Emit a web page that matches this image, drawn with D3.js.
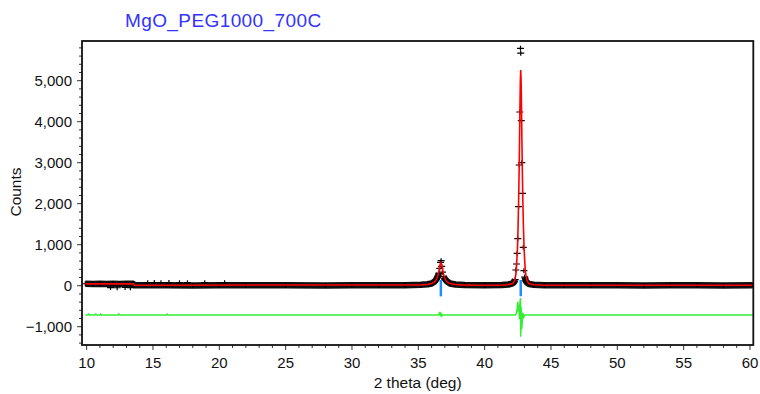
<!DOCTYPE html>
<html>
<head>
<meta charset="utf-8">
<script src="https://cdn.jsdelivr.net/npm/d3@7"></script>
<style>
  body { margin: 0; background: #fff; }
  svg { display: block; font-family: 'Liberation Sans', Arial, sans-serif; }
</style>
</head>
<body>
<svg></svg>
<script>
const width = 760;
const height = 394;
const plotLeft = 82;
const plotRight = 753.3;
const plotTop = 41;
const plotBottom = 345;

const title = 'MgO_PEG1000_700C';
const xLabel = '2 theta (deg)';
const yLabel = 'Counts';

const xTicks = [10, 15, 20, 25, 30, 35, 40, 45, 50, 55, 60];
const yTicks = [-1000, 0, 1000, 2000, 3000, 4000, 5000];

// observed points
const obsTheta = [9.9, 10.5, 11.0, 11.5, 12.0, 12.5, 13.0, 13.5, 13.6, 14.5, 16, 18, 20, 22, 25, 28, 30, 32, 34,
  35.2, 35.7, 36.0, 36.2, 36.35, 36.48, 36.56, 36.62, 36.68, 36.72, 36.76, 36.82, 36.9, 37.0, 37.15, 37.4, 37.8,
  38.5, 40, 41.3, 41.8, 42.1, 42.22, 42.30, 42.35, 42.40, 42.45, 42.50, 42.56, 42.61, 42.65, 42.70, 42.72, 42.76,
  42.80, 42.86, 42.91, 42.96, 43.02, 43.10, 43.2, 43.35, 43.7, 44.5, 46, 48, 50, 52, 54, 56, 58, 60.2];
const obsCounts = [48, 42, 50, 44, 47, 43, 49, 45, 14, 10, 12, 8, 11, 9, 10, 8, 10, 9, 11,
  22, 35, 55, 95, 150, 230, 300, 424, 570, 610, 470, 330, 220, 170, 110, 55, 30,
  18, 12, 18, 30, 55, 90, 150, 383, 529, 790, 1146, 1927, 2944, 4237, 5790, 5670, 4024,
  3000, 2254, 937, 366, 210, 120, 70, 40, 22, 12, 10, 9, 10, 8, 9, 10, 8, 9];

// stray observed points around the low angle background
const strayTheta = [11.8, 12.3, 12.9, 13.3, 14.6, 15.1, 15.6, 16.2, 17.0, 17.6, 18.9, 20.4];
const strayCounts = [-45, -50, -42, -48, 75, 78, 72, 76, 72, 75, 74, 70];

// calculated profile
const calcTheta = [9.9, 13.55, 13.6, 35.2, 35.7, 36.0, 36.2, 36.3, 36.4, 36.45, 36.5, 36.55, 36.6, 36.65, 36.7,
  36.75, 36.8, 36.85, 36.9, 36.95, 37.0, 37.1, 37.2, 37.4, 37.7, 38.2, 39.5, 41.0, 41.72, 42.12, 42.27, 42.37,
  42.42, 42.47, 42.52, 42.57, 42.60, 42.63, 42.66, 42.69, 42.72, 42.75, 42.78, 42.81, 42.84, 42.87, 42.92,
  42.97, 43.02, 43.07, 43.17, 43.32, 43.72, 44.5, 60.2];
const calcCounts = [45, 45, 12, 21, 33, 53, 88, 122, 181, 226, 286, 362, 450, 528, 560,
  528, 450, 362, 286, 226, 181, 122, 88, 53, 33, 21, 12, 12, 25, 55, 130, 310,
  580, 880, 1430, 2230, 2830, 3530, 4310, 4980, 5260, 4980, 4310, 3530, 2830, 2230, 1480,
  930, 600, 340, 140, 55, 25, 12, 10];

// difference (obs - calc), drawn shifted down
const diffOffset = -715;
const diffTheta = [9.9, 10.1, 10.17, 10.24, 10.6, 10.68, 10.76, 11.0, 11.06, 11.12, 12.37, 12.43, 12.5, 16.0,
  16.07, 16.14, 36.5, 36.58, 36.62, 36.66, 36.70, 36.74, 36.78, 36.86, 42.3, 42.4, 42.45, 42.5, 42.54, 42.58,
  42.62, 42.66, 42.70, 42.72, 42.75, 42.79, 42.84, 42.88, 42.93, 43.0, 60.2];
const diffCounts = [0, 0, 25, 0, 0, 25, 0, 0, 25, 0, 0, 25, 0, 0,
  25, 0, 0, 30, 75, -20, 60, -50, 10, 0, 0, 40, 150, 325, 80, 250,
  -100, 300, 415, -530, 200, -350, -163, 60, -80, 0, 0];

// reflection markers
const braggTheta = [36.70, 42.72];
const braggSpan = [140, -260];

window.onload = () => {
  const svg = d3.select('svg')
      .attr('width', width)
      .attr('height', height);

  const x = d3.scaleLinear().domain([9.65, 60.25]).range([plotLeft, plotRight]);
  const y = d3.scaleLinear().domain([-1446, 5968]).range([plotBottom, plotTop]);

  const obs = obsTheta.map((t, i) => ({t: t, c: obsCounts[i]}));
  const stray = strayTheta.map((t, i) => ({t: t, c: strayCounts[i]}));
  const calc = calcTheta.map((t, i) => ({t: t, c: calcCounts[i]}));
  const diff = diffTheta.map((t, i) => ({t: t, c: diffCounts[i] + diffOffset}));

  svg.append('defs')
    .append('clipPath')
      .attr('id', 'plot-clip')
    .append('rect')
      .attr('x', plotLeft)
      .attr('y', plotTop)
      .attr('width', plotRight - plotLeft)
      .attr('height', plotBottom - plotTop);

  const plot = svg.append('g').attr('clip-path', 'url(#plot-clip)');

  // dense observed points merge into a thick black band
  const band = d3.line()
      .defined(d => d.c < 320)
      .x(d => x(d.t))
      .y(d => y(d.c));

  plot.append('path')
      .datum(obs)
      .attr('d', band)
      .attr('fill', 'none')
      .attr('stroke', '#111')
      .attr('stroke-width', 6.5)
      .attr('stroke-linejoin', 'round');

  const cross = 'M-3.5,0h7M0,-2.5v5';

  plot.selectAll('path.obs')
    .data(obs.concat(stray))
    .join('path')
      .attr('class', 'obs')
      .attr('transform', d => `translate(${x(d.t)},${y(d.c)})`)
      .attr('d', cross)
      .attr('stroke', '#000')
      .attr('stroke-width', 1.2);

  const line = d3.line()
      .x(d => x(d.t))
      .y(d => y(d.c));

  plot.append('path')
      .datum(diff)
      .attr('d', line)
      .attr('fill', 'none')
      .attr('stroke', '#33ee33')
      .attr('stroke-width', 1.5);

  plot.selectAll('line.bragg')
    .data(braggTheta)
    .join('line')
      .attr('class', 'bragg')
      .attr('x1', d => x(d))
      .attr('x2', d => x(d))
      .attr('y1', y(braggSpan[0]))
      .attr('y2', y(braggSpan[1]))
      .attr('stroke', '#1e8fff')
      .attr('stroke-width', 2.5);

  plot.append('path')
      .datum(calc)
      .attr('d', line)
      .attr('fill', 'none')
      .attr('stroke', '#ff0000')
      .attr('stroke-width', 1.6);

  // axes
  const xMinor = d3.range(10, 61, 1);
  const yMinor = d3.range(-1400, 5801, 200);

  const xAxis = svg.append('g')
      .attr('transform', `translate(0,${plotBottom})`);
  xAxis.selectAll('line')
    .data(xMinor)
    .join('line')
      .attr('x1', d => x(d))
      .attr('x2', d => x(d))
      .attr('y1', 0)
      .attr('y2', d => xTicks.includes(d) ? 5 : 3)
      .attr('stroke', '#333')
      .attr('stroke-width', 1);
  xAxis.selectAll('text')
    .data(xTicks)
    .join('text')
      .attr('x', d => x(d))
      .attr('y', 23)
      .attr('text-anchor', 'middle')
      .attr('font-size', 15)
      .attr('fill', '#111')
      .text(d => d);

  const yAxis = svg.append('g')
      .attr('transform', `translate(${plotLeft},0)`);
  yAxis.selectAll('line')
    .data(yMinor)
    .join('line')
      .attr('x1', 0)
      .attr('x2', d => yTicks.includes(d) ? -5 : -3)
      .attr('y1', d => y(d))
      .attr('y2', d => y(d))
      .attr('stroke', '#333')
      .attr('stroke-width', 1);
  yAxis.selectAll('text')
    .data(yTicks)
    .join('text')
      .attr('x', -10)
      .attr('y', d => y(d))
      .attr('dy', '0.35em')
      .attr('text-anchor', 'end')
      .attr('font-size', 15)
      .attr('fill', '#111')
      .text(d => d3.format(',')(d));

  svg.append('rect')
      .attr('x', plotLeft)
      .attr('y', plotTop)
      .attr('width', plotRight - plotLeft)
      .attr('height', plotBottom - plotTop)
      .attr('fill', 'none')
      .attr('stroke', '#111')
      .attr('stroke-width', 1.8);

  svg.append('text')
      .attr('x', (plotLeft + plotRight) / 2)
      .attr('y', 388)
      .attr('text-anchor', 'middle')
      .attr('font-size', 15.5)
      .attr('fill', '#111')
      .text(xLabel);

  svg.append('text')
      .attr('transform', 'translate(21,192) rotate(-90)')
      .attr('text-anchor', 'middle')
      .attr('font-size', 15.5)
      .attr('fill', '#111')
      .text(yLabel);

  svg.append('text')
      .attr('x', 125)
      .attr('y', 27)
      .attr('font-size', 19)
      .attr('letter-spacing', 0.4)
      .attr('fill', '#3333ff')
      .text(title);
};
</script>
</body>
</html>
